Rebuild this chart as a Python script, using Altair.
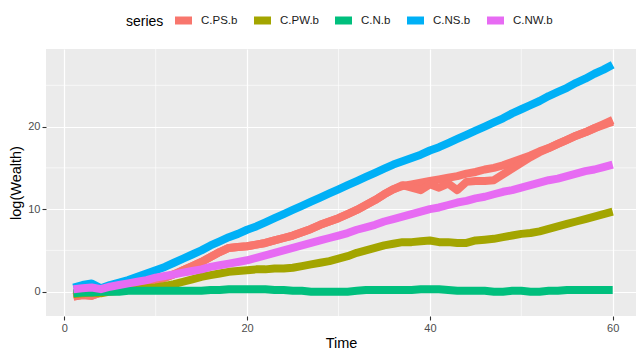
import altair as alt
import pandas as pd

time = list(range(1, 61))

series_names = ["C.PS.b", "C.PW.b", "C.N.b", "C.NS.b", "C.NW.b"]
series_colors = ["#F8766D", "#A3A500", "#00BF7D", "#00B0F6", "#E76BF3"]

c_ps_b = [-0.6, -0.4, -0.5, -0.1, 0.2, 0.4, 0.6, 0.8, 1.1, 1.4,
          1.7, 2.1, 2.6, 3.1, 3.6, 4.2, 4.8, 5.3, 5.4, 5.5,
          5.7, 5.9, 6.2, 6.5, 6.8, 7.2, 7.6, 8.1, 8.5, 8.9,
          9.4, 9.9, 10.5, 11.1, 11.8, 12.4, 12.9, 12.6, 12.3, 13.0,
          12.6, 13.1, 12.3, 13.3, 13.4, 13.4, 13.5, 14.2, 14.9, 15.6,
          16.3, 16.9, 17.4, 17.9, 18.4, 18.9, 19.3, 19.8, 20.3, 20.8]
c_ps_b_run2 = [-0.6, -0.4, -0.5, -0.1, 0.2, 0.4, 0.6, 0.8, 1.1, 1.4,
               1.7, 2.1, 2.6, 3.1, 3.6, 4.2, 4.8, 5.3, 5.4, 5.5,
               5.7, 5.9, 6.2, 6.5, 6.8, 7.2, 7.6, 8.1, 8.5, 8.9,
               9.4, 9.9, 10.5, 11.1, 11.8, 12.4, 12.8, 13.0, 13.2, 13.4,
               13.6, 13.8, 14.0, 14.3, 14.5, 14.8, 15.0, 15.3, 15.7, 16.1,
               16.5, 17.0, 17.4, 17.9, 18.4, 18.9, 19.3, 19.8, 20.2, 20.6]
c_pw_b = [-0.3, -0.2, -0.1, -0.2, 0.0, 0.1, 0.2, 0.3, 0.4, 0.5,
          0.7, 0.9, 1.2, 1.5, 1.8, 2.0, 2.2, 2.4, 2.5, 2.6,
          2.7, 2.7, 2.8, 2.8, 2.9, 3.1, 3.3, 3.5, 3.7, 4.0,
          4.3, 4.7, 5.0, 5.3, 5.6, 5.8, 6.0, 6.0, 6.1, 6.2,
          6.0, 6.0, 5.9, 5.9, 6.2, 6.3, 6.4, 6.6, 6.8, 7.0,
          7.1, 7.3, 7.6, 7.9, 8.2, 8.5, 8.8, 9.1, 9.4, 9.7]
c_n_b = [-0.2, -0.1, -0.1, 0.0, 0.0, 0.0, 0.1, 0.1, 0.1, 0.1,
         0.1, 0.1, 0.1, 0.1, 0.1, 0.2, 0.2, 0.3, 0.3, 0.3,
         0.3, 0.3, 0.2, 0.2, 0.1, 0.1, 0.0, 0.0, 0.0, 0.0,
         0.0, 0.1, 0.2, 0.2, 0.2, 0.2, 0.2, 0.2, 0.3, 0.3,
         0.3, 0.2, 0.1, 0.1, 0.1, 0.1, 0.0, 0.0, 0.1, 0.1,
         0.0, 0.0, 0.1, 0.1, 0.2, 0.2, 0.2, 0.2, 0.2, 0.2]
c_ns_b = [0.5, 0.8, 1.0, 0.4, 0.8, 1.1, 1.4, 1.8, 2.2, 2.6,
          3.0, 3.5, 4.0, 4.5, 5.0, 5.6, 6.1, 6.6, 7.0, 7.5,
          7.9, 8.4, 8.9, 9.4, 9.9, 10.4, 10.9, 11.4, 11.9, 12.4,
          12.9, 13.4, 13.9, 14.4, 14.9, 15.4, 15.8, 16.2, 16.6, 17.1,
          17.5, 18.0, 18.5, 19.0, 19.5, 20.0, 20.5, 21.0, 21.6, 22.1,
          22.6, 23.1, 23.7, 24.2, 24.7, 25.3, 25.8, 26.4, 26.9, 27.5]
c_nw_b = [0.3, 0.4, 0.5, 0.3, 0.6, 0.8, 1.0, 1.2, 1.4, 1.7,
          1.9, 2.1, 2.3, 2.5, 2.7, 3.0, 3.2, 3.4, 3.6, 3.8,
          4.1, 4.4, 4.7, 5.0, 5.3, 5.6, 5.9, 6.2, 6.5, 6.8,
          7.1, 7.5, 7.8, 8.1, 8.5, 8.8, 9.1, 9.4, 9.7, 10.0,
          10.2, 10.5, 10.8, 11.0, 11.3, 11.5, 11.8, 12.1, 12.3, 12.6,
          12.9, 13.2, 13.5, 13.7, 14.0, 14.3, 14.6, 14.8, 15.1, 15.4]

x_major = [0, 20, 40, 60]
x_minor = [10, 30, 50]
y_major = [0, 10, 20]
y_minor = [5, 15, 25]

runs = [
    ("C.PS.b", "r2", c_ps_b_run2),
    ("C.PS.b", "r1", c_ps_b),
    ("C.PW.b", "r1", c_pw_b),
    ("C.N.b", "r1", c_n_b),
    ("C.NS.b", "r1", c_ns_b),
    ("C.NW.b", "r1", c_nw_b),
]
rows = []
for name, run, vals in runs:
    for t, v in zip(time, vals):
        rows.append({"series": name, "run": name + run, "Time": t, "value": v})
df = pd.DataFrame(rows)

W, H = 590, 267
x_scale = alt.Scale(domain=[-2, 62.55], nice=False, zero=False)
y_scale = alt.Scale(domain=[-2.95, 29.4], nice=False, zero=False)

x_axis = alt.Axis(values=x_major, title="Time", grid=True, gridColor="white",
                  gridWidth=1.2, domain=False, tickColor="#333333",
                  tickSize=4, tickWidth=1.1, labelColor="#4D4D4D",
                  labelFontSize=11, labelPadding=2, titleFontSize=14.5,
                  titleFontWeight="normal", titleColor="black",
                  titlePadding=3)
y_axis = alt.Axis(values=y_major, title="log(Wealth)", grid=True,
                  gridColor="white", gridWidth=1.2, domain=False,
                  tickColor="#333333", tickSize=4, tickWidth=1.1,
                  labelColor="#4D4D4D", labelFontSize=11, labelPadding=2,
                  titleFontSize=14.5, titleFontWeight="normal",
                  titleColor="black", titlePadding=4)

minor_x = alt.Chart(pd.DataFrame({"v": x_minor})).mark_rule(
    color="white", strokeWidth=0.6
).encode(x=alt.X("v:Q", scale=x_scale, axis=x_axis, title="Time"))
minor_y = alt.Chart(pd.DataFrame({"v": y_minor})).mark_rule(
    color="white", strokeWidth=0.6
).encode(y=alt.Y("v:Q", scale=y_scale, axis=y_axis, title="log(Wealth)"))

lines = alt.Chart(df).mark_line(
    strokeWidth=8, strokeCap="butt", strokeJoin="round"
).encode(
    x=alt.X("Time:Q", scale=x_scale, axis=x_axis, title="Time"),
    y=alt.Y("value:Q", scale=y_scale, axis=y_axis, title="log(Wealth)"),
    color=alt.Color("series:N",
                    scale=alt.Scale(domain=series_names, range=series_colors),
                    legend=alt.Legend(orient="none", legendX=80, legendY=-41,
                                      direction="horizontal", titleOrient="left",
                                      title="series", titleFontSize=14,
                                      titleFontWeight="normal", titleColor="black",
                                      titlePadding=7, labelFontSize=11.5,
                                      labelColor="#1A1A1A", labelOffset=5,
                                      columnPadding=0, symbolType="stroke",
                                      symbolStrokeWidth=8, symbolSize=289,
                                      gridAlign="none",
                                      titleBaseline="middle")),
    detail="run:N",
)

chart = alt.layer(minor_x, minor_y, lines).properties(
    width=W, height=H,
    autosize=alt.AutoSizeParams(type="none"),
    padding={"left": 46, "top": 49, "right": 0, "bottom": 37},
).configure(
    font="Liberation Sans"
).configure_view(
    fill="#EBEBEB", stroke=None
).configure_axis(
    labelFont="Liberation Sans", titleFont="Liberation Sans"
)

chart.save("out.html", embed_options={"renderer": "svg", "actions": False})
